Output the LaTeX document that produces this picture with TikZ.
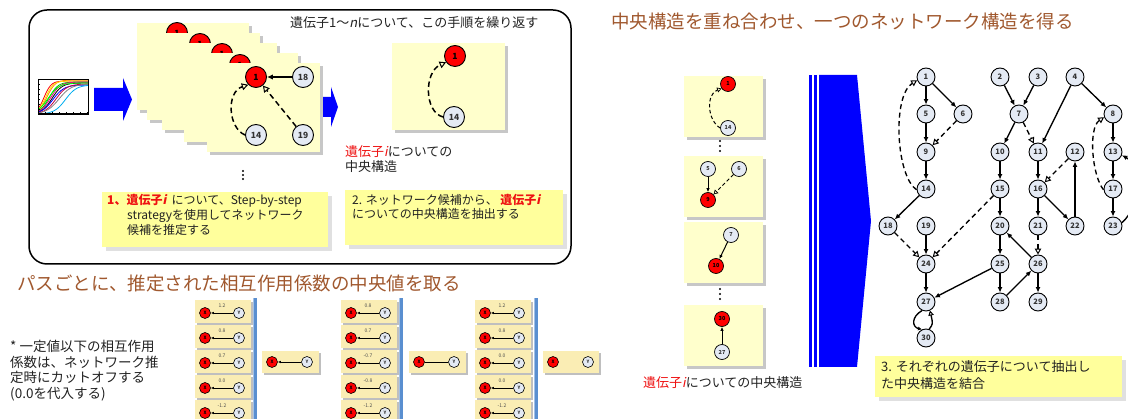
\documentclass[tikz,border=0pt]{standalone}
\usepackage{fontspec}
\setmainfont{Noto Sans CJK JP}
\newfontfamily\itfont{Noto Sans CJK JP}[FakeSlant=0.2]
\usetikzlibrary{arrows.meta,shadows,calc}
\definecolor{cardy}{HTML}{FFFFCC}
\definecolor{boxy}{HTML}{FFFF9C}
\definecolor{medy}{HTML}{FAEDB4}
\definecolor{nodeb}{HTML}{E4EAF4}
\definecolor{brownh}{HTML}{A0582E}
\definecolor{barb}{HTML}{5A8FD0}
\definecolor{redt}{HTML}{EE1111}
\definecolor{txt}{HTML}{222222}
\newcommand{\gi}{{\itfont i}}
\begin{document}
\begin{tikzpicture}[x=1pt,y=-1pt,
  card/.style={fill=cardy, anchor=north west, inner sep=0pt, drop shadow={shadow xshift=2.5pt, shadow yshift=-2.5pt, fill=black!22, opacity=1}},
  tbox/.style={fill=boxy, anchor=north west, inner sep=0pt, drop shadow={shadow xshift=4pt, shadow yshift=-4pt, fill=black!12, opacity=1}},
  medcard/.style={fill=medy, anchor=north west, inner sep=0pt, minimum width=56pt, minimum height=23pt, drop shadow={shadow xshift=1.5pt, shadow yshift=-1.5pt, fill=black!25, opacity=1}},
  gn/.style={circle, draw=black, line width=0.9pt, fill=nodeb, minimum size=18pt, inner sep=0pt, font=\fontsize{7.5}{8}\selectfont\bfseries, text=black!80},
  rn/.style={fill=red, text=black},
  bign/.style={gn, minimum size=21pt, font=\fontsize{8.5}{9}\selectfont\bfseries},
  midn/.style={gn, minimum size=15pt, line width=0.7pt, font=\fontsize{5.5}{6}\selectfont\bfseries},
  tinyn/.style={gn, minimum size=11pt, line width=0.6pt, font=\fontsize{4.5}{5}\selectfont\bfseries},
  sa/.style={line width=1.35pt, -{Latex[length=5.5pt,width=5pt]}},
  da/.style={line width=1.35pt, dash pattern=on 5pt off 3.5pt, -{Triangle[open,length=6pt,width=6.5pt,line width=1pt]}},
  bsa/.style={line width=1.5pt, -{Latex[length=6pt,width=5.5pt]}},
  bda/.style={line width=1.5pt, dash pattern=on 5.5pt off 3.5pt, -{Triangle[open,length=6.5pt,width=7pt,line width=1pt]}},
  msa/.style={line width=1pt, -{Latex[length=4pt,width=3.5pt]}},
  mda/.style={line width=1pt, dash pattern=on 3.5pt off 2.5pt, -{Triangle[open,length=4.5pt,width=5pt,line width=0.7pt]}},
  jt/.style={font=\fontsize{12}{14}\selectfont, text=txt, inner sep=0pt, align=left, anchor=north west}
]
\useasboundingbox (0,0) rectangle (1128,419);

% ---------- top-left procedure box ----------
\draw[line width=1.5pt, rounded corners=18pt] (29,10) rectangle (571,264);
\node[anchor=west, font=\fontsize{13}{15}\selectfont, text=txt, inner sep=0pt] (toptxt) at (290,23) {遺伝子1～{\itfont n}について、この手順を繰り返す};

% chart
\begin{scope}
\clip (38,79) rectangle (88,114);
\foreach \c/\k/\m/\t in {red/14/0.12/81, orange/12/0.18/80, yellow!85!orange/13/0.15/81, green!75!black/11/0.22/82, magenta/10/0.25/82, black/10/0.28/83, blue/9/0.3/85, purple/9/0.36/84, gray/8/0.42/84, green/9/0.2/83, cyan/9/0.55/85}
  \draw[\c, line width=0.8pt] plot[domain=0:1, samples=25] ({38+50*\x}, {114-(114-\t)/(1+exp(-\k*(\x-\m)))});
\end{scope}
\draw[line width=0.4pt] (38,79) rectangle (88,114);
\draw[line width=1pt] (38,79) -- (38,114) -- (88,114);
\foreach \t in {0,1,...,6} \draw[line width=0.5pt] (38,{84+5*\t}) -- (40,{84+5*\t});
\foreach \t in {0,1,...,6} \draw[line width=0.5pt] ({45+7*\t},114) -- ({45+7*\t},112);

% blue arrows
\fill[blue] (94,88) -- (123,88) -- (123,78) -- (132,99.5) -- (123,121) -- (123,111) -- (94,111) -- cycle;
\fill[blue] (323,97) -- (331,97) -- (331,87) -- (338,107) -- (331,127) -- (331,117) -- (323,117) -- cycle;

% stacked cards
\node[card, minimum width=112pt, minimum height=87pt] (ca) at (137,23) {};
\node[bign, rn] (ra) at (177,33) {1};
\node[card, minimum width=113pt, minimum height=87pt] (cb) at (147,33) {};
\node[bign, rn] (rb) at (200,44) {1};
\node[card, minimum width=115pt, minimum height=87pt] (cc) at (162,43) {};
\node[bign, rn] (rc) at (222,54) {1};
\node[card, minimum width=114pt, minimum height=89pt] (cd) at (184,53) {};
\node[bign, rn] (rd) at (240,65) {1};
\node[card, minimum width=113pt, minimum height=89pt] (ce) at (207,63) {};
\node[bign, rn] (e1) at (256,77) {1};
\node[bign] (e18) at (303,77) {18};
\node[bign] (e14) at (256,135) {14};
\node[bign] (e19) at (303,135) {19};
\draw[bsa] (e18) -- (e1);
\draw[bda] (e19) -- (e1);
\draw[bda] (e14.west) .. controls (228,128) and (226,92) .. (e1.225);

\foreach \yy in {171,175,179} \fill (243,\yy) circle (1.1pt);

% box 1
\node[tbox, minimum width=226pt, minimum height=55pt] (b1) at (102,192) {};
\node[jt, font=\fontsize{12}{15}\selectfont] (t1) at (107,194) {{\bfseries\color{redt}1、遺伝子\gi}\ \ について、Step-by-step\\\hspace*{20pt}strategyを使用してネットワーク\\\hspace*{20pt}候補を推定する};

% central structure card
\node[card, minimum width=113pt, minimum height=87pt] (cf) at (392,43) {};
\node[bign, rn] (f1) at (455,56) {1};
\node[bign] (f14) at (454,117) {14};
\draw[bda] (f14.west) .. controls (424,112) and (424,72) .. (f1.215);
\node[jt, font=\fontsize{13}{15}\selectfont] (t2) at (345,145.5) {{\color{redt}遺伝子\gi}についての\\中央構造};

% box 2
\node[tbox, minimum width=218pt, minimum height=55pt] (b2) at (345,190) {};
\node[jt, font=\fontsize{12}{14}\selectfont] (t3) at (352,194) {2. ネットワーク候補から、 {\bfseries\color{redt}遺伝子\gi}\\についての中央構造を抽出する};

% ---------- median section ----------
\node[anchor=west, font=\fontsize{18.5}{20}\selectfont, text=brownh, inner sep=0pt] (h1) at (17,283) {パスごとに、推定された相互作用係数の中央値を取る};
\node[jt, font=\fontsize{13.5}{15.5}\selectfont] (note) at (10,340) {* 一定値以下の相互作用\\係数は、ネットワーク推\\定時にカットオフする\\(0.0を代入する)};

\foreach \g/\L/\Bx/\la/\lb/\lc/\ld/\le in {1/195/253/1.2/0.8/0.7/0.0/-1.2, 2/341/399/0.8/0.7/-0.7/-0.8/-1.2, 3/475/534/1.2/0.8/0.0/0.0/-1.2} {
  \foreach \i/\lab in {0/\la,1/\lb,2/\lc,3/\ld,4/\le} {
    \node[medcard] (m\g c\i) at (\L,{300+25*\i}) {};
    \node[tinyn, rn] (m\g x\i) at ({\L+10},{313+25*\i}) {X};
    \node[tinyn] (m\g y\i) at ({\L+44},{313+25*\i}) {Y};
    \draw[line width=0.9pt, -{Latex[length=3pt,width=2.5pt]}] (m\g y\i) -- (m\g x\i);
    \node[font=\fontsize{5}{5}\selectfont, text=black!70, inner sep=0pt] (m\g l\i) at ({\L+27},{306+25*\i}) {\lab};
  }
  \fill[barb] (\Bx,298) rectangle ({\Bx+4},419);
  \fill[barb!55!white] (\Bx,298) rectangle ({\Bx+1.2},419);
}
% results
\node[medcard, minimum width=57pt, minimum height=22pt] (r1) at (262,351) {};
\node[tinyn, rn] (r1x) at (272,362) {X};
\node[tinyn] (r1y) at (307,362) {Y};
\draw[line width=0.9pt, -{Latex[length=3pt,width=2.5pt]}] (r1y) -- (r1x);
\node[medcard, minimum width=57pt, minimum height=22pt] (r2) at (409,351) {};
\node[tinyn, rn] (r2x) at (419,362) {X};
\node[tinyn] (r2y) at (454,362) {Y};
\draw[line width=0.9pt] (r2y) -- (r2x);
\node[medcard, minimum width=56pt, minimum height=22pt] (r3) at (543,351) {};
\node[tinyn, rn] (r3x) at (553,362) {X};
\node[tinyn] (r3y) at (588,362) {Y};

% ---------- right section ----------
\node[anchor=west, font=\fontsize{18.5}{20}\selectfont, text=brownh, inner sep=0pt] (h2) at (611,21) {中央構造を重ね合わせ、一つのネットワーク構造を得る};

\node[card, minimum width=79pt, minimum height=61pt] (ka) at (684,76) {};
\node[midn, rn] (k1) at (728,84) {1};
\node[midn] (k14) at (728,128) {14};
\draw[mda] (k14.west) .. controls (707,120) and (706,94) .. (k1.215);
\foreach \yy in {141,146,151} \fill (720,\yy) circle (1.1pt);

\node[card, minimum width=79pt, minimum height=61pt] (kb) at (684,156) {};
\node[midn] (k5) at (708,169) {5};
\node[midn] (k6) at (739,169) {6};
\node[midn, rn] (k9) at (708,200) {9};
\draw[msa] (k5) -- (k9);
\draw[mda] (k6) -- (k9);

\node[card, minimum width=79pt, minimum height=61pt] (kc) at (684,222) {};
\node[midn] (k7) at (731,235) {7};
\node[midn, rn] (k10) at (716,266) {10};
\draw[msa] (k7) -- (k10);
\foreach \yy in {289,294,299} \fill (720,\yy) circle (1.1pt);

\node[card, minimum width=79pt, minimum height=61pt] (kd) at (684,305) {};
\node[midn, rn] (k30) at (722,319) {30};
\node[midn] (k27) at (722,352) {27};
\draw[msa] (k27) -- (k30);

\node[anchor=west, font=\fontsize{13}{15}\selectfont, text=txt, inner sep=0pt] (cap) at (643,383) {{\color{redt}遺伝子\gi}についての中央構造};

% big arrow
\fill[blue] (809,75) rectangle (811.5,367);
\fill[blue] (813.5,75) rectangle (817,367);
\fill[blue] (819,75) -- (857,75) -- (871,221) -- (857,367) -- (819,367) -- cycle;

% network
\foreach \n/\xx/\yy in {1/926/77, 2/1000/77, 3/1038/77, 4/1075/77, 5/926/114, 6/963/114, 7/1019/114, 8/1113/114, 9/926/152, 10/1000/152, 11/1038/152, 12/1075/152, 13/1113/152, 14/926/189, 15/1000/189, 16/1038/189, 17/1113/189, 18/888/226, 19/926/226, 20/1000/226, 21/1038/226, 22/1075/226, 23/1113/226, 24/926/264, 25/1000/264, 26/1038/264, 27/926/302, 28/1000/302, 29/1038/302, 30/926/338}
  \node[gn] (g\n) at (\xx,\yy) {\n};
\draw[da] (g14.185) .. controls (896,176) and (892,96) .. (g1.200);
\draw[da] (g17.185) .. controls (1092,176) and (1088,128) .. (g8.200);
\draw[sa] (g23.20) .. controls (1142,205) and (1140,165) .. (g13.340);
\draw[line width=1.35pt, -{Latex[length=4pt,width=4pt]}] (g27.245) .. controls (911,317) and (912,327) .. (g30.115);
\draw[line width=1.35pt, -{Triangle[open,length=5pt,width=5.5pt,line width=1pt]}] (g30.70) .. controls (933,324) .. (g27.295);
\foreach \a/\b in {1/5, 1/6, 5/9, 9/14, 14/18, 19/24, 24/27, 25/27, 2/7, 3/7, 4/11, 4/8, 7/10, 10/15, 15/20, 20/25, 25/28, 28/26, 26/20, 26/29, 11/16, 16/21, 16/22, 22/12, 8/13, 13/17, 17/23}
  \draw[sa] (g\a) -- (g\b);
\foreach \a/\b in {6/9, 18/24, 15/24, 7/11, 21/26, 12/16}
  \draw[da] (g\a) -- (g\b);

% box 3
\node[tbox, minimum width=247pt, minimum height=41pt] (b3) at (875,356) {};
\node[jt, font=\fontsize{13}{17}\selectfont] (t4) at (881,360.5) {3. それぞれの遺伝子について抽出し\\た中央構造を結合};
\end{tikzpicture}
\end{document}
